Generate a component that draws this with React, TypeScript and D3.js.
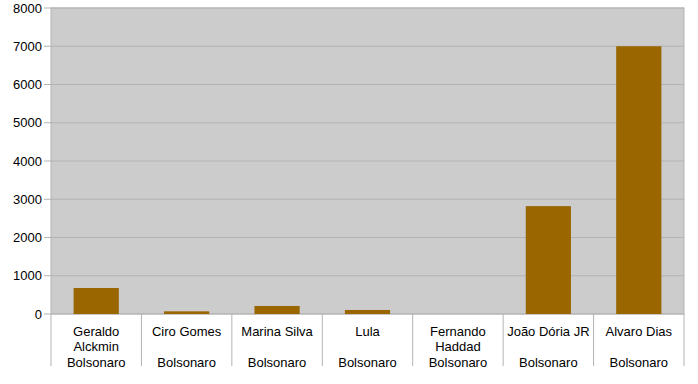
import React from "react";
import * as d3 from "d3";

const categories = [
  ["Geraldo", "Alckmin", "Bolsonaro"],
  ["Ciro Gomes", "", "Bolsonaro"],
  ["Marina Silva", "", "Bolsonaro"],
  ["Lula", "", "Bolsonaro"],
  ["Fernando", "Haddad", "Bolsonaro"],
  ["João Dória JR", "", "Bolsonaro"],
  ["Alvaro Dias", "", "Bolsonaro"],
];
const values = [680, 70, 210, 105, 0, 2820, 7000];
const yTicks = [0, 1000, 2000, 3000, 4000, 5000, 6000, 7000, 8000];

const W = 698;
const H = 384;
const left = 51;
const right = 684;
const top = 8;
const bottom = 314;

export default function App() {
  const x = d3
    .scaleBand<number>()
    .domain(d3.range(categories.length))
    .range([left, right])
    .paddingInner(0)
    .paddingOuter(0);
  const y = d3.scaleLinear().domain([0, 8000]).range([bottom, top]);
  const barW = x.bandwidth() * 0.5;
  const font = "'Liberation Sans', Arial, sans-serif";
  const grid = "#b3b3b3";

  return (
    <svg
      width={W}
      height={H}
      style={{ position: "absolute", left: 0, top: 0, background: "#fff" }}
      fontFamily={font}
    >
      <rect x={left} y={top} width={right - left} height={bottom - top} fill="#cccccc" />
      {yTicks.map((t) => (
        <g key={t}>
          <line x1={left - 7} x2={right} y1={y(t)} y2={y(t)} stroke={grid} strokeWidth={1} />
          <text x={42} y={y(t)} dy="0.35em" textAnchor="end" fontSize={13} fill="#000">
            {t}
          </text>
        </g>
      ))}
      <rect
        x={left}
        y={top}
        width={right - left}
        height={bottom - top}
        fill="none"
        stroke={grid}
        strokeWidth={1}
      />
      {values.map((v, i) => (
        <rect
          key={i}
          x={(x(i) as number) + (x.bandwidth() - barW) / 2}
          y={y(v)}
          width={barW}
          height={bottom - y(v)}
          fill="#996600"
        />
      ))}
      {d3.range(categories.length + 1).map((i) => {
        const xx = i < categories.length ? (x(i) as number) : right;
        return (
          <line key={i} x1={xx} x2={xx} y1={bottom} y2={366} stroke={grid} strokeWidth={1} />
        );
      })}
      {categories.map((lines, i) => (
        <text
          key={i}
          x={(x(i) as number) + x.bandwidth() / 2}
          textAnchor="middle"
          fontSize={13}
          fill="#000"
        >
          {lines.map((l, j) => (
            <tspan key={j} x={(x(i) as number) + x.bandwidth() / 2} y={336 + j * 15.3}>
              {l}
            </tspan>
          ))}
        </text>
      ))}
    </svg>
  );
}
